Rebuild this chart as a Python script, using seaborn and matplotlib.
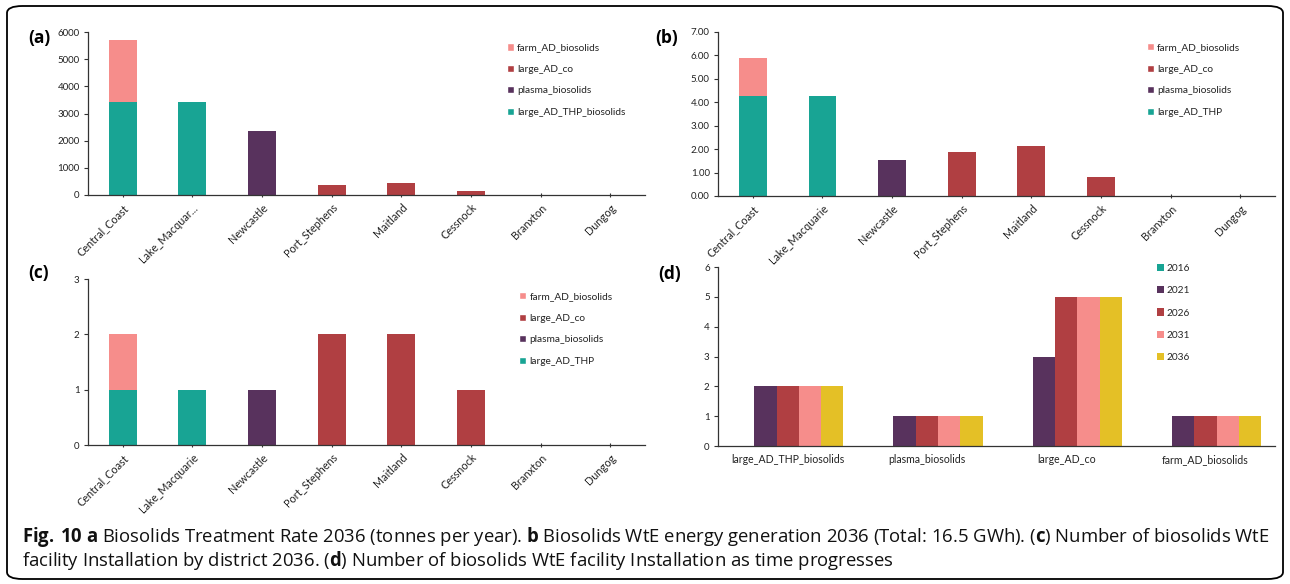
import matplotlib

matplotlib.use("Agg")
import matplotlib.pyplot as plt  # noqa: E402
import pandas as pd  # noqa: E402
import seaborn as sns  # noqa: E402
from matplotlib.patches import FancyBboxPatch, Patch  # noqa: E402

# ---------------------------------------------------------------------------
# Data
# ---------------------------------------------------------------------------
districts = ["Central_Coast", "Lake_Macquarie", "Newcastle", "Port_Stephens",
             "Maitland", "Cessnock", "Branxton", "Dungog"]
labels_a = ["Central_Coast", "Lake_Macquar...", "Newcastle", "Port_Stephens",
            "Maitland", "Cessnock", "Branxton", "Dungog"]

# (a) treatment rate, tonnes per year
rate_thp = [3420, 3420, 0, 0, 0, 0, 0, 0]
rate_plasma = [0, 0, 2360, 0, 0, 0, 0, 0]
rate_co = [0, 0, 0, 380, 440, 150, 0, 0]
rate_farm = [2280, 0, 0, 0, 0, 0, 0, 0]

# (b) energy generation, GWh
energy_thp = [4.25, 4.25, 0, 0, 0, 0, 0, 0]
energy_plasma = [0, 0, 1.53, 0, 0, 0, 0, 0]
energy_co = [0, 0, 0, 1.86, 2.12, 0.80, 0, 0]
energy_farm = [1.65, 0, 0, 0, 0, 0, 0, 0]

# (c) number of facilities
count_thp = [1, 1, 0, 0, 0, 0, 0, 0]
count_plasma = [0, 0, 1, 0, 0, 0, 0, 0]
count_co = [0, 0, 0, 2, 2, 1, 0, 0]
count_farm = [1, 0, 0, 0, 0, 0, 0, 0]

# (d) facilities by technology over time
technologies = ["large_AD_THP_biosolids", "plasma_biosolids", "large_AD_co",
                "farm_AD_biosolids"]
years = ["2016", "2021", "2026", "2031", "2036"]
n_2016 = [0, 0, 0, 0]
n_2021 = [2, 1, 3, 1]
n_2026 = [2, 1, 5, 1]
n_2031 = [2, 1, 5, 1]
n_2036 = [2, 1, 5, 1]

TEAL = "#18a494"
PURPLE = "#58325d"
RED = "#b03f42"
PINK = "#f68d8b"
YELLOW = "#e4c026"
year_colors = [TEAL, PURPLE, RED, PINK, YELLOW]

sns.set_style("ticks")
plt.rcParams["font.family"] = ["Lato", "DejaVu Sans"]
plt.rcParams["mathtext.fontset"] = "custom"
plt.rcParams["mathtext.rm"] = "Open Sans"
plt.rcParams["mathtext.bf"] = "Open Sans:bold"

TXT = "#222222"
TICK_FS = 7
XLAB_FS = 7.8
LEG_FS = 7.3


def style_axis(ax):
    sns.despine(ax=ax)
    for side in ("left", "bottom"):
        ax.spines[side].set_linewidth(0.9)
        ax.spines[side].set_color("#333333")
    ax.tick_params(axis="y", length=3, width=0.8, color="#333333",
                   labelsize=TICK_FS, labelcolor=TXT, pad=3)
    ax.tick_params(axis="x", length=3, width=0.8, direction="inout",
                   color="#333333", labelsize=XLAB_FS, labelcolor=TXT)
    ax.set_xlabel("")
    ax.set_ylabel("")


def stacked(ax, layers, colors, names, tick_labels, ymax, step, fmt, leg_xy):
    # draw cumulative heights from the top layer down (seaborn stacking trick)
    cum = []
    running = [0] * len(districts)
    for layer in layers:
        running = [r + v for r, v in zip(running, layer)]
        cum.append(running)
    for heights, color in reversed(list(zip(cum, colors))):
        df = pd.DataFrame({"district": districts, "value": heights})
        sns.barplot(data=df, x="district", y="value", color=color,
                    width=0.4, linewidth=0, saturation=1, ax=ax)
    ax.set_ylim(0, ymax)
    ax.set_xlim(-0.5, len(districts) - 0.5)
    ax.set_yticks([i * step for i in range(int(round(ymax / step)) + 1)])
    ax.yaxis.set_major_formatter(plt.FormatStrFormatter(fmt))
    ax.set_xticks(range(len(districts)))
    ax.set_xticklabels(tick_labels, rotation=45, ha="right",
                       rotation_mode="anchor")
    style_axis(ax)
    handles = [Patch(facecolor=c, label=n) for c, n in
               reversed(list(zip(colors, names)))]
    ax.legend(handles=handles, loc="upper left", bbox_to_anchor=leg_xy,
              frameon=False, fontsize=LEG_FS, handlelength=0.7,
              handleheight=0.7, handletextpad=0.3, labelspacing=1.22,
              borderaxespad=0, labelcolor=TXT)


fig = plt.figure(figsize=(12.9, 5.84), dpi=100)

ax_a = fig.add_axes([0.0682, 0.6661, 0.4318, 0.279])
ax_b = fig.add_axes([0.5566, 0.6644, 0.4318, 0.281])
ax_c = fig.add_axes([0.0682, 0.2380, 0.4318, 0.284])
ax_d = fig.add_axes([0.5566, 0.2363, 0.4318, 0.3065])

stack_colors = [TEAL, PURPLE, RED, PINK]

stacked(ax_a, [rate_thp, rate_plasma, rate_co, rate_farm], stack_colors,
        ["large_AD_THP_biosolids", "plasma_biosolids", "large_AD_co",
         "farm_AD_biosolids"],
        labels_a, 6000, 1000, "%d", (0.745, 0.955))

stacked(ax_b, [energy_thp, energy_plasma, energy_co, energy_farm],
        stack_colors,
        ["large_AD_THP", "plasma_biosolids", "large_AD_co",
         "farm_AD_biosolids"],
        districts, 7, 1, "%.2f", (0.763, 0.955))

stacked(ax_c, [count_thp, count_plasma, count_co, count_farm], stack_colors,
        ["large_AD_THP", "plasma_biosolids", "large_AD_co",
         "farm_AD_biosolids"],
        districts, 3, 1, "%d", (0.767, 0.945))

# (d) grouped bars
d_df = pd.DataFrame({
    "technology": technologies * len(years),
    "year": [y for y in years for _ in technologies],
    "count": n_2016 + n_2021 + n_2026 + n_2031 + n_2036,
})
sns.barplot(data=d_df, x="technology", y="count", hue="year",
            palette=year_colors, saturation=1, linewidth=0, width=0.8,
            ax=ax_d)
ax_d.set_ylim(0, 6)
ax_d.set_xlim(-0.5, 3.5)
ax_d.set_yticks(range(7))
style_axis(ax_d)
ax_d.tick_params(axis="x", length=0, pad=6, labelsize=7.6)
sns.move_legend(ax_d, "upper left", bbox_to_anchor=(0.78, 1.04),
                frameon=False, title=None, fontsize=LEG_FS,
                handlelength=0.7, handleheight=0.7, handletextpad=0.3,
                labelspacing=1.3, borderaxespad=0)

# panel letters
for x, y, s in [(0.022, 0.935, "(a)"), (0.508, 0.935, "(b)"),
                (0.022, 0.532, "(c)"), (0.510, 0.530, "(d)")]:
    fig.text(x, y, s, fontsize=12.5, fontweight="bold", color="black",
             family=["Open Sans", "DejaVu Sans"], va="center")

# rounded frame round the whole figure
frame = FancyBboxPatch((7 / 1290, 5 / 584), 1276 / 1290, 573 / 584,
                       boxstyle="round,pad=0,rounding_size=0.012",
                       transform=fig.transFigure, fill=False,
                       edgecolor="black", linewidth=1.3)
fig.patches.append(frame)

caption1 = (r"$\bf{Fig.\,10}$ $\bf{a}$ Biosolids Treatment Rate 2036 "
            r"(tonnes per year). $\bf{b}$ Biosolids WtE energy generation 2036 "
            r"(Total: 16.5 GWh). ($\bf{c}$) Number of biosolids WtE")
caption2 = (r"facility Installation by district 2036. ($\bf{d}$) Number of "
            r"biosolids WtE facility Installation as time progresses")
fig.text(0.017, 0.081, caption1, fontsize=13.35, family="Open Sans",
         color="#111111", va="center")
fig.text(0.017, 0.041, caption2, fontsize=13.35, family="Open Sans",
         color="#111111", va="center")

fig.savefig("out.png", dpi=100)
